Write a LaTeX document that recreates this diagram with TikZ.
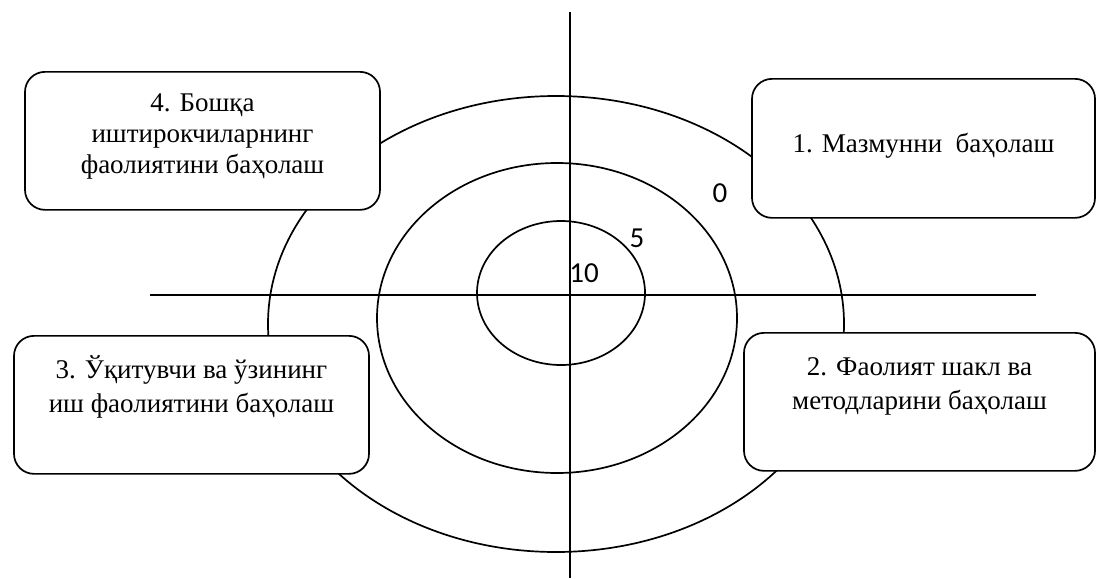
\documentclass[tikz,border=0pt]{standalone}
\usepackage{fontspec}
\setmainfont{Liberation Serif}
\newfontfamily\digitfont{Carlito}

\begin{document}
\begin{tikzpicture}[x=0.5pt,y=-0.5pt,line width=0.85pt]
\tikzstyle{box}=[draw,fill=white,rounded corners=10pt,align=center,inner sep=0pt,anchor=north,
font=\fontsize{13.5}{17.25}\selectfont,text height=38.5pt,text depth=30.5pt]
\tikzstyle{score}=[inner sep=0pt,font=\digitfont\fontsize{14.5}{17}\selectfont]
\useasboundingbox (0,0) rectangle (1096,578);

% axes
\coordinate (top) at (570,12);
\coordinate (bottom) at (570,578);
\coordinate (left) at (150,295);
\coordinate (right) at (1036,295);
\draw (top) -- (bottom);
\draw (left) -- (right);

% rings
\draw (561,293) ellipse [x radius=84,y radius=72];
\draw (557,318) ellipse [x radius=180,y radius=155];
\draw (556,324) ellipse [x radius=288,y radius=228];

\node[score] (s10) at (584,273) {10};
\node[score] (s5) at (637,238) {5};
\node[score] (s0) at (720,193) {0};

\node[box,minimum width=171.5pt,text height=37pt,text depth=32.5pt] (assess1) at (923.5,78)
{1. Мазмунни\ \ баҳолаш};
\node[box,minimum width=175.5pt] (assess2) at (919.5,332)
{2. Фаолият шакл ва\\методларини баҳолаш};
\node[box,minimum width=177.5pt] (assess3) at (191.5,335)
{3. Ўқитувчи ва ўзининг\\иш фаолиятини баҳолаш};
\node[box,minimum width=177.5pt,text height=51pt,text depth=18pt,
font=\fontsize{13.5}{15.5}\selectfont] (assess4) at (202.5,71)
{4. Бошқа\\иштирокчиларнинг\\фаолиятини баҳолаш};
\end{tikzpicture}
\end{document}
